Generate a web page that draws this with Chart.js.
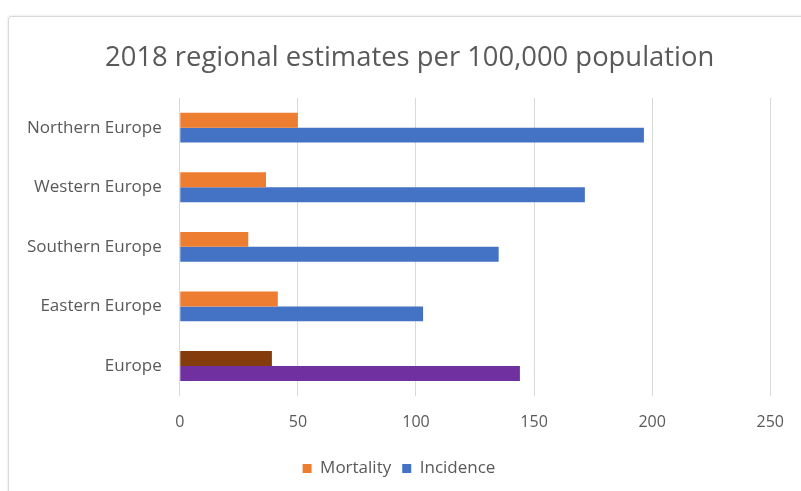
<!DOCTYPE html>
<html>
<head>
<meta charset="utf-8">
<script src="https://cdn.jsdelivr.net/npm/chart.js@4.4.1/dist/chart.umd.min.js"></script>
<style>
  html, body { margin: 0; padding: 0; background: #fff; }
  body { width: 801px; height: 491px; position: relative; overflow: hidden; }
  #cornice {
    position: absolute; left: 8px; top: 16px; width: 820px; height: 500px;
    border: 1px solid #d9d9d9; border-radius: 3px;
    box-shadow: 0 0 3px rgba(0,0,0,0.12);
  }
  #grafico { position: absolute; left: 0; top: 0; }
</style>
</head>
<body>
<div id="cornice"></div>
<canvas id="grafico" width="801" height="491"></canvas>
<script>
// Dati (stime per 100.000 abitanti, 2018)
const regioni = ["Northern Europe", "Western Europe", "Southern Europe", "Eastern Europe", "Europe"];
const mortalita = [50, 36.5, 29, 41.5, 39];
const incidenza = [196.5, 171.5, 135, 103, 144];
const tickX = [0, 50, 100, 150, 200, 250];

// Colori delle barre (l'ultima riga, Europa, ha colori diversi)
const coloriMortalita = ["#ed7d31", "#ed7d31", "#ed7d31", "#ed7d31", "#843c0c"];
const coloriIncidenza = ["#4472c4", "#4472c4", "#4472c4", "#4472c4", "#7030a0"];

const init = () => {
    const ctx = document.getElementById("grafico").getContext("2d");
    new Chart(ctx, {
        type: "bar",
        data: {
            labels: regioni,
            datasets: [
                {
                    label: "Mortality",
                    data: mortalita,
                    backgroundColor: coloriMortalita,
                    borderWidth: 0
                },
                {
                    label: "Incidence",
                    data: incidenza,
                    backgroundColor: coloriIncidenza,
                    borderWidth: 0
                }
            ]
        },
        options: {
            indexAxis: "y",
            responsive: false,
            animation: false,
            categoryPercentage: 0.5,
            barPercentage: 1.0,
            layout: {
                padding: { left: 9, right: 12, top: 42, bottom: 4 }
            },
            scales: {
                x: {
                    min: 0,
                    max: 250,
                    afterBuildTicks: (scale) => {
                        scale.ticks = tickX.map(v => ({ value: v }));
                    },
                    grid: { color: "#d9d9d9", drawTicks: false },
                    border: { display: false },
                    ticks: {
                        color: "#595959",
                        font: { family: "Open Sans", size: 16 },
                        padding: 17
                    }
                },
                y: {
                    grid: { display: false, drawTicks: false },
                    border: { display: false },
                    ticks: {
                        color: "#595959",
                        font: { family: "Open Sans", size: 17 },
                        padding: 18
                    }
                }
            },
            plugins: {
                title: {
                    display: true,
                    // spazi iniziali: il titolo nell'originale è un po' spostato a destra
                    text: "   2018 regional estimates per 100,000 population",
                    color: "#595959",
                    font: { family: "Open Sans", size: 27.4, weight: "normal" },
                    padding: { top: 0, bottom: 23 }
                },
                legend: {
                    position: "bottom",
                    labels: {
                        color: "#595959",
                        font: { family: "Open Sans", size: 17 },
                        boxWidth: 9,
                        boxHeight: 9,
                        padding: 11,
                        // colori della legenda presi dalle prime barre
                        generateLabels: (chart) => chart.data.datasets.map((ds, i) => ({
                            text: ds.label,
                            fillStyle: ds.backgroundColor[0],
                            strokeStyle: ds.backgroundColor[0],
                            lineWidth: 0,
                            datasetIndex: i,
                            fontColor: "#595959"
                        }))
                    }
                },
                tooltip: { enabled: false }
            }
        }
    });
}

window.addEventListener("load", init)
</script>
</body>
</html>
